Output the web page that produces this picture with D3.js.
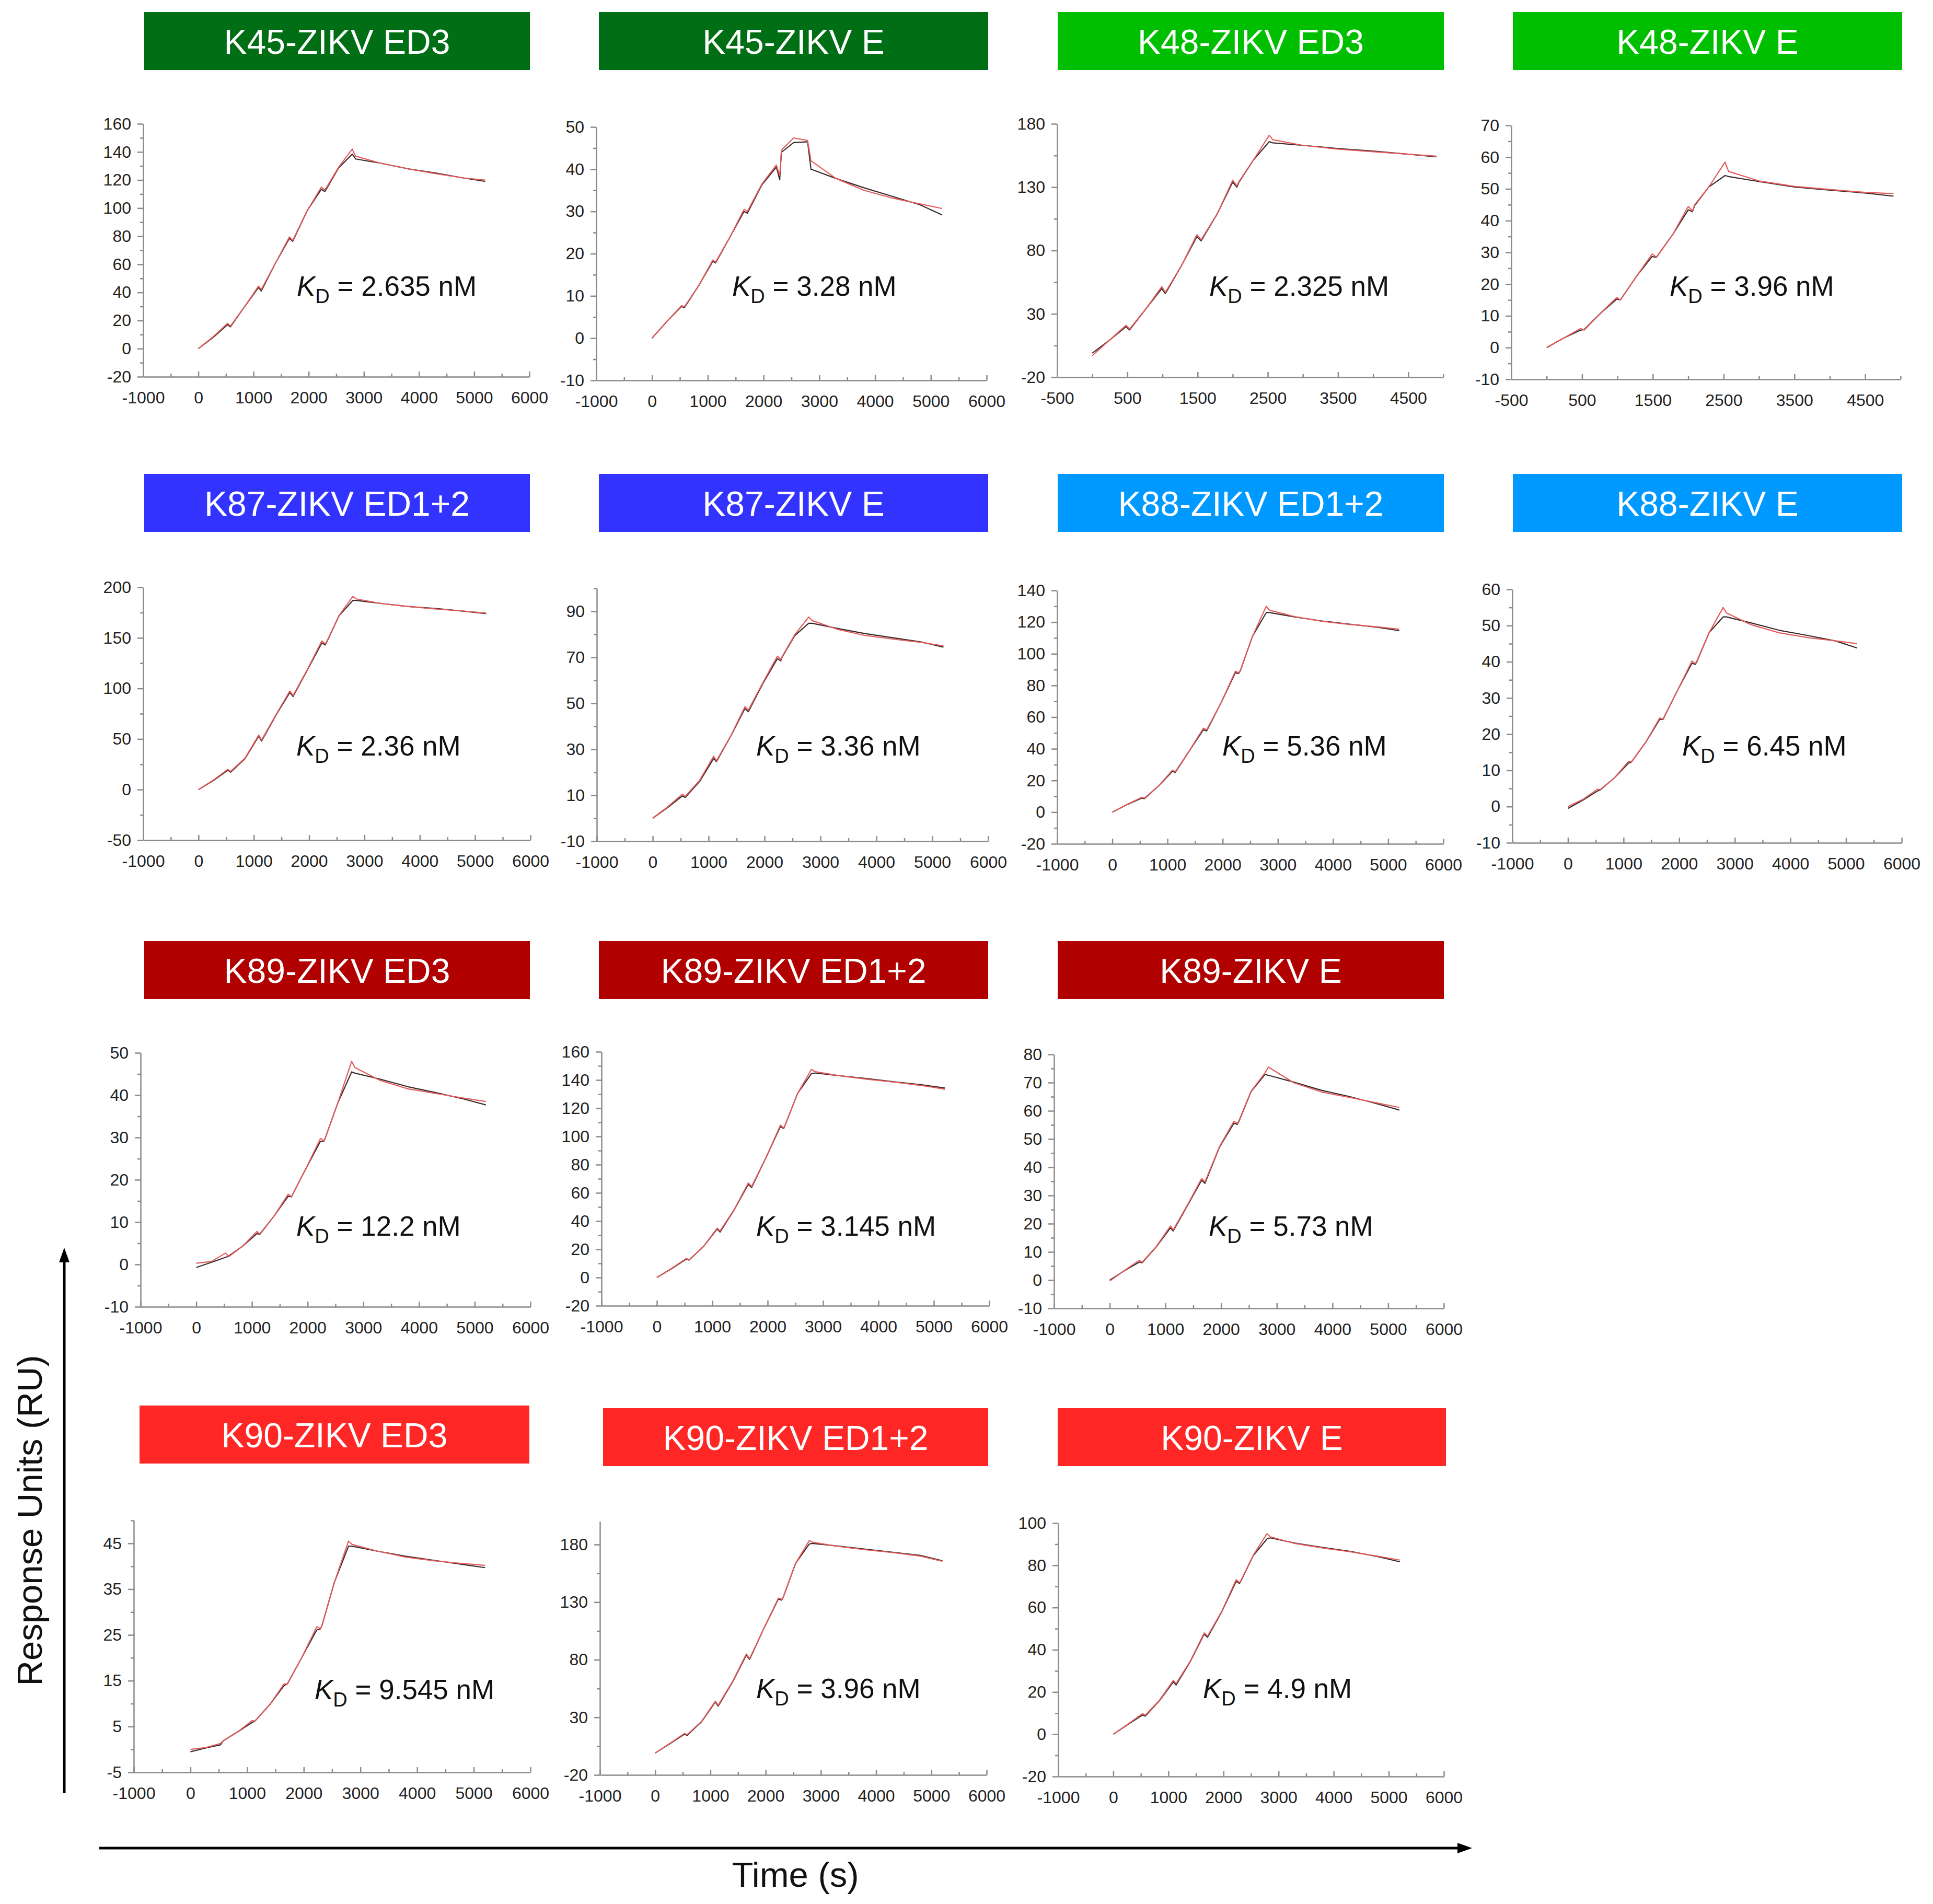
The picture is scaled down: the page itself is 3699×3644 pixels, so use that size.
<!DOCTYPE html>
<html>
<head>
<meta charset="utf-8">
<script src="https://cdn.jsdelivr.net/npm/d3@7"></script>
<style>
  body { margin: 0; background: #fff; }
  svg text { font-family: "Liberation Sans", Arial, sans-serif; white-space: pre; }
</style>
</head>
<body>
<div id="chart"></div>
<script>
// setup svg dimensions
var svgWidth = 3699;
var svgHeight = 3644;

// panel titles, header colours and fitted KD values (row by row)
var panelTitles = [
  "K45-ZIKV ED3", "K45-ZIKV E", "K48-ZIKV ED3", "K48-ZIKV E",
  "K87-ZIKV ED1+2", "K87-ZIKV E", "K88-ZIKV ED1+2", "K88-ZIKV E",
  "K89-ZIKV ED3", "K89-ZIKV ED1+2", "K89-ZIKV E",
  "K90-ZIKV ED3", "K90-ZIKV ED1+2", "K90-ZIKV E"
];
var headerColors = [
  "#006e14", "#006e14", "#00bf00", "#00bf00",
  "#3333ff", "#3333ff", "#0099ff", "#0099ff",
  "#b00000", "#b00000", "#b00000",
  "#ff2626", "#ff2626", "#ff2626"
];
var kdValues = [
  "2.635", "3.28", "2.325", "3.96",
  "2.36", "3.36", "5.36", "6.45",
  "12.2", "3.145", "5.73",
  "9.545", "3.96", "4.9"
];

// time points (s) of the sensorgrams; the K48 runs use the shorter schedule
var timeA = [0, 270, 530, 580, 840, 1090, 1140, 1400, 1650, 1710, 1970, 2230, 2290, 2320, 2540, 2790, 2850, 3300, 3800, 4300, 4800, 5200];
var timeB = [0, 240, 480, 530, 760, 990, 1040, 1270, 1490, 1550, 1780, 2000, 2060, 2090, 2290, 2520, 2570, 3000, 3500, 4000, 4500, 4900];
var usesTimeB = [false, false, true, true, false, false, false, false, false, false, false, false, false, false];

// x axis tick labels
var xTicksWide = [-1000, 0, 1000, 2000, 3000, 4000, 5000, 6000];
var xTicksShort = [-500, 500, 1500, 2500, 3500, 4500];

// y domains and y tick labels per panel
var yDomains = [
  [-20, 160], [-10, 50], [-20, 180], [-10, 70],
  [-50, 200], [-10, 100], [-20, 140], [-10, 60],
  [-10, 50], [-20, 160], [-10, 80],
  [-5, 50], [-20, 200], [-20, 100]
];
var yTickLabels = [
  [-20, 0, 20, 40, 60, 80, 100, 120, 140, 160],
  [-10, 0, 10, 20, 30, 40, 50],
  [-20, 30, 80, 130, 180],
  [-10, 0, 10, 20, 30, 40, 50, 60, 70],
  [-50, 0, 50, 100, 150, 200],
  [-10, 10, 30, 50, 70, 90],
  [-20, 0, 20, 40, 60, 80, 100, 120, 140],
  [-10, 0, 10, 20, 30, 40, 50, 60],
  [-10, 0, 10, 20, 30, 40, 50],
  [-20, 0, 20, 40, 60, 80, 100, 120, 140, 160],
  [-10, 0, 10, 20, 30, 40, 50, 60, 70, 80],
  [-5, 5, 15, 25, 35, 45],
  [-20, 30, 80, 130, 180],
  [-20, 0, 20, 40, 60, 80, 100]
];

var responseData = [
  [0, 8, 17, 15.5, 30, 43.5, 41, 61, 78.5, 76.3, 98, 113.5, 111.8, 113.5, 128.5, 138.5, 135, 132, 128, 125, 121.5, 119],
  [0, 4, 7.5, 7.2, 12.5, 18.2, 17.8, 24, 30, 29.6, 36.3, 40.5, 37.5, 44, 46.3, 46.5, 40, 37.8, 35.6, 33.6, 31.6, 29.2],
  [-1, 9, 19.8, 17.3, 33.7, 50, 46, 68, 91, 87.6, 109, 134, 130, 134, 151, 166, 165, 163, 160.5, 158.5, 156, 154],
  [0, 3, 5.5, 5.7, 10.8, 15.3, 15, 22.5, 28.7, 28.4, 35.6, 43.4, 42.8, 44.7, 50.6, 54.2, 53.9, 52.3, 50.6, 49.6, 48.7, 47.7],
  [0, 9, 19.2, 17.2, 30.5, 53, 48, 73.5, 96, 92, 118.5, 145, 143, 146, 171.8, 187, 187, 184, 181, 179, 176.3, 174],
  [0, 4.7, 9.7, 9, 16, 26, 24.6, 35.9, 47.7, 46.3, 58.6, 69.4, 68.5, 70.3, 79.4, 84.8, 84.8, 82.6, 80.3, 78.5, 76.7, 74.4],
  [0, 4.8, 8.8, 8.5, 16.6, 25.8, 25.1, 38.9, 52, 51.3, 69, 88, 87.6, 89.3, 111, 126, 126, 123.3, 120.7, 118.7, 116.8, 114.6],
  [-0.5, 1.8, 4.3, 4.6, 8, 12, 12.3, 17.8, 24.1, 24.1, 32.1, 39.6, 39.3, 40.1, 48.1, 52.4, 52.4, 50.7, 48.7, 47.3, 45.8, 43.8],
  [-0.7, 0.5, 1.7, 2, 4.4, 7.3, 7.1, 11.5, 16.1, 16, 22.7, 29.1, 29.1, 30, 38.1, 45.5, 45.2, 43.8, 42, 40.6, 39.1, 37.7],
  [0, 6.4, 13, 12.3, 21.9, 34.4, 32.2, 48.3, 66, 63.8, 85, 107, 105.6, 108.5, 130.5, 144.5, 145, 143, 141, 138.7, 136.5, 134.3],
  [0, 3.4, 6.4, 6.1, 11.9, 18.5, 17.4, 26.6, 35.4, 34.3, 47.1, 55.6, 55.2, 56.3, 66.9, 72.9, 72.6, 70.2, 67.3, 65.1, 62.5, 60.3],
  [-0.5, 0.3, 1, 1.9, 3.9, 5.9, 6.2, 9.8, 13.9, 14.3, 20.2, 26.1, 26.3, 27, 36.5, 44.4, 44.4, 43.3, 42.2, 41.3, 40.4, 39.7],
  [-1, 7.2, 15.3, 14.4, 26.2, 43.3, 39.7, 60.5, 84, 80.3, 107.4, 132.7, 131.8, 134.5, 163.4, 180.5, 181, 178.7, 176, 173.3, 170.6, 166],
  [0, 4.7, 9.1, 8.6, 16, 24.8, 23.3, 34.6, 47.4, 45.9, 58.1, 72.4, 71.4, 72.8, 84.6, 92.5, 93, 90.5, 88.5, 86.6, 84.1, 81.7]
];

// fitted response (RU)
var fitData = [
  [0, 8.5, 18, 16, 30, 44.5, 42, 61, 79.5, 77, 98, 115, 113, 114.5, 129, 142, 137, 132, 128, 124.5, 121.5, 120],
  [0, 4, 7.7, 7.4, 12.5, 18.5, 18, 24, 30.5, 30, 36.5, 41, 38.5, 44.5, 47.4, 46.8, 42, 37.8, 35, 33.2, 31.8, 30.7],
  [-3, 9, 21, 18, 33.7, 51.5, 47, 68, 92.5, 88.5, 109, 135.5, 131, 134.5, 151, 171, 167.5, 163, 160, 158, 156, 154.5],
  [0, 3, 6, 5.5, 10.8, 15.8, 15, 22.5, 29.5, 28.5, 35.6, 44.5, 43, 45, 50.6, 58.4, 55.5, 52.5, 50.8, 49.8, 48.9, 48.5],
  [0, 9.5, 20, 18, 31, 54, 49, 74, 97.5, 93, 119, 147, 144, 146.5, 172, 191, 188.5, 184, 181, 178.5, 176.5, 174.5],
  [0, 5, 10.5, 9.5, 16.5, 27, 25, 36, 48.5, 47, 59, 70.5, 69, 70.5, 79.8, 87.5, 86, 82.2, 79.5, 77.9, 76.5, 75],
  [0, 5, 9.3, 8.8, 16.6, 26.5, 25.5, 39, 53, 52, 69, 89, 88, 89.5, 111, 130, 127.5, 123.5, 120.5, 118.5, 117, 115.5],
  [0, 2, 4.8, 4.7, 8, 12.5, 12.3, 17.8, 24.5, 24.2, 32.1, 40.2, 39.5, 40.3, 48.1, 55, 53.5, 50.2, 48, 46.7, 45.8, 45],
  [0.3, 0.7, 2.7, 1.8, 4.4, 7.8, 7.2, 11.5, 16.6, 16, 22.7, 29.8, 29.2, 30, 38.1, 48, 46.5, 43.5, 41.5, 40.4, 39.3, 38.5],
  [0, 6.6, 13.5, 12.5, 22, 35, 33, 48.5, 67, 64.5, 85, 108, 106, 108.5, 130.5, 147.5, 146, 143, 140.5, 138.5, 136, 133.5],
  [-0.3, 3.5, 7, 6.3, 12, 19.2, 17.8, 26.8, 36, 34.8, 47.3, 56.3, 55.5, 56.5, 67, 73.5, 75.5, 70, 66.7, 64.8, 62.8, 61.2],
  [0, 0.4, 1.3, 1.9, 3.9, 6.3, 6.2, 9.8, 14.3, 14.3, 20.2, 26.8, 26.4, 27, 36.5, 45.5, 44.8, 43.3, 42, 41.2, 40.6, 40.2],
  [-1, 7.5, 16, 15, 26.5, 44, 40.5, 61, 85, 81, 107.5, 133.5, 132.5, 134.5, 163.5, 183.5, 182, 178.5, 175.5, 173, 170, 165.5],
  [0, 4.9, 9.8, 9, 16.2, 25.5, 24, 34.8, 48, 46.5, 58.3, 73.2, 71.8, 73, 84.8, 95, 93.5, 90.3, 88.2, 86.4, 84.3, 82.5]
];

// layout in pixels: plot box [left, right, top, bottom], header box [x, y, w, h], KD label [x, baseline]
var plotBoxes = [
  [274, 1013, 237, 721], [1141, 1888, 243, 728], [2023, 2762, 237, 722], [2892, 3637, 240, 726],
  [274, 1015, 1124, 1608], [1142, 1891, 1126, 1610], [2023, 2762, 1130, 1615], [2894, 3639, 1128, 1613],
  [269, 1015, 2015, 2501], [1151, 1893, 2013, 2499], [2017, 2763, 2018, 2504],
  [256, 1015, 2910, 3392], [1148, 1888, 2912, 3397], [2025, 2763, 2915, 3400]
];
var headerBoxes = [
  [276, 23, 738, 111], [1146, 23, 745, 111], [2024, 23, 739, 111], [2895, 23, 745, 111],
  [276, 907, 738, 111], [1146, 907, 745, 111], [2024, 907, 739, 111], [2895, 907, 745, 111],
  [276, 1801, 738, 111], [1146, 1801, 745, 111], [2024, 1801, 739, 111],
  [267, 2690, 746, 111], [1154, 2695, 737, 111], [2024, 2695, 743, 111]
];
var kdPositions = [
  [568, 566], [1401, 566], [2314, 566], [3195, 566],
  [567, 1446], [1447, 1446], [2339, 1446], [3219, 1446],
  [567, 2365], [1447, 2365], [2313, 2365],
  [602, 3252], [1447, 3250], [2302, 3250]
];

var axisColor = "#8a8a8a";
var labelColor = "#222";

var svg = d3.select("#chart")
  .append("svg")
  .attr("width", svgWidth)
  .attr("height", svgHeight);

svg.append("rect")
  .attr("width", svgWidth)
  .attr("height", svgHeight)
  .attr("fill", "#fff");

// style an axis group
function styleAxis(g, withLabels) {
  g.select(".domain").attr("stroke", axisColor).attr("stroke-width", 2.5);
  g.selectAll(".tick line").attr("stroke", axisColor).attr("stroke-width", 2.5);
  if (withLabels) {
    g.selectAll(".tick text")
      .attr("fill", labelColor)
      .attr("font-size", 32)
      .attr("font-family", "Liberation Sans, Arial, sans-serif");
  }
}

// minor ticks halfway between the labelled ones
function minorTicks(labels, domain) {
  var step = labels[1] - labels[0];
  var out = [];
  var start = labels[0] - step / 2;
  for (var v = start; v <= domain[1] + 1e-9; v += step) {
    if (v >= domain[0] - 1e-9) out.push(v);
  }
  return out;
}

panelTitles.forEach(function(title, i) {
  var box = plotBoxes[i];
  var times = usesTimeB[i] ? timeB : timeA;
  var xTicks = usesTimeB[i] ? xTicksShort : xTicksWide;
  var xDomain = usesTimeB[i] ? [-500, 5000] : [-1000, 6000];

  // header
  var hb = headerBoxes[i];
  svg.append("rect")
    .attr("x", hb[0])
    .attr("y", hb[1])
    .attr("width", hb[2])
    .attr("height", hb[3])
    .attr("fill", headerColors[i]);
  svg.append("text")
    .attr("x", hb[0] + hb[2] / 2)
    .attr("y", hb[1] + hb[3] / 2 + 24)
    .attr("text-anchor", "middle")
    .attr("font-size", 66)
    .attr("fill", "#fff")
    .text(title);

  // scales
  var x = d3.scaleLinear().domain(xDomain).range([box[0], box[1]]);
  var y = d3.scaleLinear().domain(yDomains[i]).range([box[3], box[2]]);

  // minor ticks first
  var xMinor = svg.append("g")
    .attr("transform", `translate(0, ${box[3]})`)
    .call(d3.axisBottom(x).tickValues(minorTicks(xTicks, xDomain)).tickSize(-6).tickSizeOuter(0).tickFormat(""));
  xMinor.select(".domain").remove();
  styleAxis(xMinor, false);

  var yMinor = svg.append("g")
    .attr("transform", `translate(${box[0]}, 0)`)
    .call(d3.axisLeft(y).tickValues(minorTicks(yTickLabels[i], yDomains[i])).tickSize(6).tickSizeOuter(0).tickFormat(""));
  yMinor.select(".domain").remove();
  styleAxis(yMinor, false);

  // main axes
  var xAxis = svg.append("g")
    .attr("transform", `translate(0, ${box[3]})`)
    .call(d3.axisBottom(x).tickValues(xTicks).tickSize(-10).tickSizeOuter(0).tickPadding(28).tickFormat(d => String(d)));
  styleAxis(xAxis, true);

  var yAxis = svg.append("g")
    .attr("transform", `translate(${box[0]}, 0)`)
    .call(d3.axisLeft(y).tickValues(yTickLabels[i]).tickSize(11).tickSizeOuter(0).tickPadding(12).tickFormat(d => String(d)));
  styleAxis(yAxis, true);

  // curves
  var line = d3.line()
    .x((d, k) => x(times[k]))
    .y(d => y(d));

  svg.append("path")
    .datum(responseData[i])
    .attr("d", line)
    .attr("fill", "none")
    .attr("stroke", "#3a2a2a")
    .attr("stroke-width", 2.2)
    .attr("stroke-linejoin", "round");

  svg.append("path")
    .datum(fitData[i])
    .attr("d", line)
    .attr("fill", "none")
    .attr("stroke", "#e35a5a")
    .attr("stroke-width", 2.2)
    .attr("stroke-linejoin", "round");

  // KD annotation
  var kd = svg.append("text")
    .attr("x", kdPositions[i][0])
    .attr("y", kdPositions[i][1])
    .attr("font-size", 53)
    .attr("fill", "#111");
  kd.append("tspan").attr("font-style", "italic").text("K");
  kd.append("tspan").attr("font-size", 38).attr("dy", 14).text("D");
  kd.append("tspan").attr("dy", -14).text(" = " + kdValues[i] + " nM");
});

// overall axis arrows and titles
svg.append("line")
  .attr("x1", 123).attr("y1", 3432)
  .attr("x2", 123).attr("y2", 2410)
  .attr("stroke", "#000")
  .attr("stroke-width", 5);
svg.append("path")
  .attr("d", "M123,2388 L113,2416 L133,2416 Z")
  .attr("fill", "#000");

svg.append("line")
  .attr("x1", 190).attr("y1", 3537)
  .attr("x2", 2795).attr("y2", 3537)
  .attr("stroke", "#000")
  .attr("stroke-width", 5);
svg.append("path")
  .attr("d", "M2817,3537 L2789,3527 L2789,3547 Z")
  .attr("fill", "#000");

svg.append("text")
  .attr("transform", "translate(80, 2910) rotate(-90)")
  .attr("text-anchor", "middle")
  .attr("font-size", 67)
  .attr("fill", "#111")
  .text("Response Units (RU)");

svg.append("text")
  .attr("x", 1522)
  .attr("y", 3611)
  .attr("text-anchor", "middle")
  .attr("font-size", 67)
  .attr("fill", "#111")
  .text("Time (s)");
</script>
</body>
</html>
